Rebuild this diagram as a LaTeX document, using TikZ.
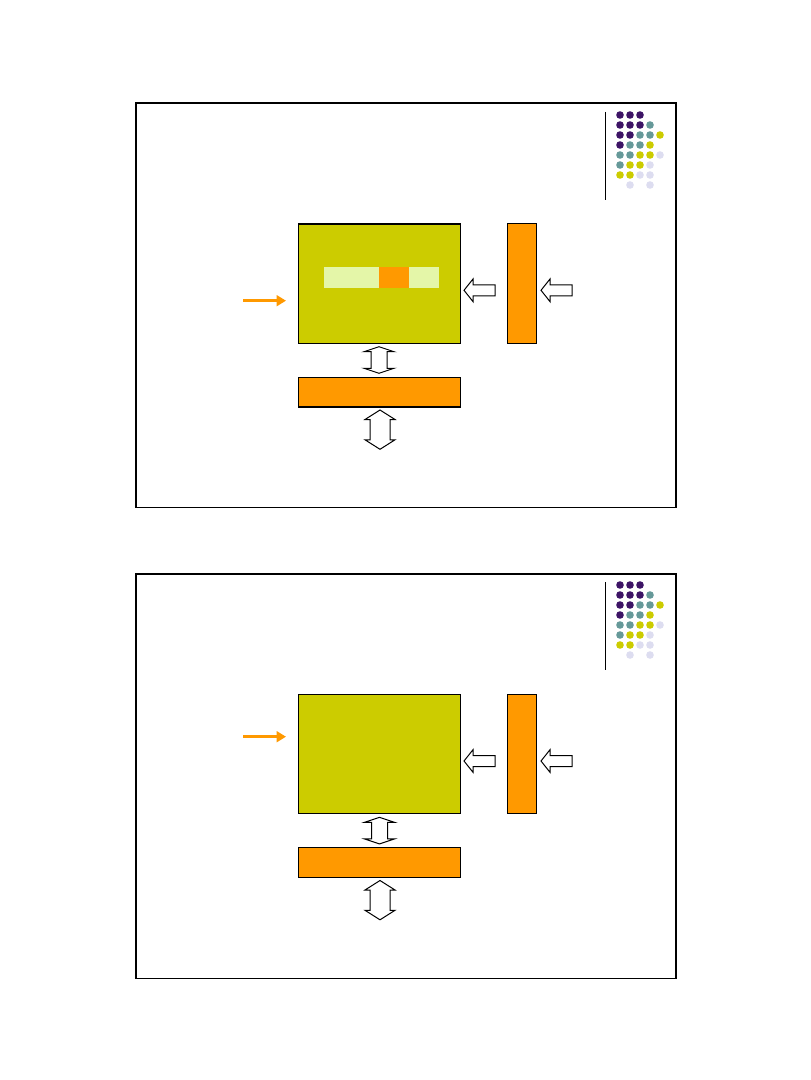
\documentclass[tikz,border=0pt]{standalone}
\usetikzlibrary{arrows.meta}
\definecolor{cYel}{RGB}{204,204,0}
\definecolor{cOra}{RGB}{255,153,0}
\definecolor{cLight}{RGB}{228,246,168}
\definecolor{cPur}{RGB}{61,20,102}
\definecolor{cTeal}{RGB}{102,153,153}
\definecolor{cLav}{RGB}{221,221,240}
\begin{document}
\begin{tikzpicture}[x=0.75pt,y=-0.75pt,
  frame/.style={draw=black,line width=1pt},
  mainbox/.style={draw=black,line width=0.75pt,fill=cYel,minimum width=121.8pt,minimum height=89.25pt,inner sep=0pt,outer sep=0pt},
  vbar/.style={draw=black,line width=0.75pt,fill=cOra,minimum width=22pt,minimum height=89.25pt,inner sep=0pt,outer sep=0pt},
  hbar/.style={draw=black,line width=0.75pt,fill=cOra,minimum width=121.8pt,minimum height=22.5pt,inner sep=0pt,outer sep=0pt},
  lightbar/.style={fill=cLight,minimum width=86.25pt,minimum height=15.75pt,inner sep=0pt,outer sep=0pt},
  orabar/.style={fill=cOra,minimum width=22.5pt,minimum height=15.75pt,inner sep=0pt,outer sep=0pt},
  blockarr/.style={draw=black,line width=0.75pt,fill=white,line join=miter},
  feed/.style={draw=cOra,line width=2.2pt,-{Triangle[length=7pt,width=8pt]}},
  dot/.style={circle,inner sep=0pt,minimum size=5.6pt},
  larrow/.pic={\draw[blockarr] (0,0) -- (9,-11.3) -- (9,-5.5) -- (31,-5.5) -- (31,5.5) -- (9,5.5) -- (9,11.3) -- cycle;},
  udsmall/.pic={\draw[blockarr] (0,0) -- (15,5) -- (8,5) -- (8,21.6) -- (15,21.6) -- (0,26.6) -- (-15,21.6) -- (-8,21.6) -- (-8,5) -- (-15,5) -- cycle;},
  udbig/.pic={\draw[blockarr] (0,0) -- (15,9.5) -- (10,9.5) -- (10,29.8) -- (15,29.8) -- (0,39.3) -- (-15,29.8) -- (-10,29.8) -- (-10,9.5) -- (-15,9.5) -- cycle;},
  logo/.pic={
    \draw[line width=0.75pt] (0,0) -- (0,88);
    \foreach \c/\r/\col in {0/0/cPur,1/0/cPur,2/0/cPur,
      0/1/cPur,1/1/cPur,2/1/cPur,3/1/cTeal,
      0/2/cPur,1/2/cPur,2/2/cTeal,3/2/cTeal,4/2/cYel,
      0/3/cPur,1/3/cTeal,2/3/cTeal,3/3/cYel,
      0/4/cTeal,1/4/cTeal,2/4/cYel,3/4/cYel,4/4/cLav,
      0/5/cTeal,1/5/cYel,2/5/cYel,3/5/cLav,
      0/6/cYel,1/6/cYel,2/6/cLav,3/6/cLav,
      1/7/cLav,3/7/cLav}
      \fill[\col] (14.3+10*\c,3+10*\r) circle (2.85pt);
  }]
\useasboundingbox (0,0) rectangle (810,1080);
\fill[white] (0,0) rectangle (810,1080);

% ---------- panel 1 ----------
\draw[frame] (136,103) rectangle (676,507.3);
\draw[line width=1.5pt] (136,103) -- (676,103);
\pic at (605.7,112) {logo};
\node[mainbox] (main1) at (379.5,283.5) {};
\draw[line width=1.5pt] (main1.north west) -- (main1.north east);
\node[lightbar] (lb1) at (381.5,277.2) {};
\node[orabar] (ob1) at (394,277.2) {};
\node[vbar] (vb1) at (522,283.5) {};
\node[hbar] (hb1) at (379.5,392.3) {};
\draw[line width=1.5pt] (hb1.south west) -- (hb1.south east);
\coordinate (in1) at (243.3,300.7);
\coordinate (in1e) at (286,300.7);
\draw[feed] (in1) -- (in1e);
\pic at (464,290.3) {larrow};
\pic at (541,290.3) {larrow};
\pic at (379,346.7) {udsmall};
\pic at (380,410) {udbig};

% ---------- panel 2 ----------
\draw[frame] (136,574) rectangle (676,978.3);
\pic at (605.7,582) {logo};
\node[mainbox] (main2) at (379.5,753.8) {};
\node[vbar] (vb2) at (522,753.8) {};
\node[hbar] (hb2) at (379.5,862.3) {};
\coordinate (in2) at (243.3,736.7);
\coordinate (in2e) at (286,736.7);
\draw[feed] (in2) -- (in2e);
\pic at (464,761) {larrow};
\pic at (541,761) {larrow};
\pic at (379.5,817.3) {udsmall};
\pic at (380,880.5) {udbig};
\end{tikzpicture}
\end{document}
